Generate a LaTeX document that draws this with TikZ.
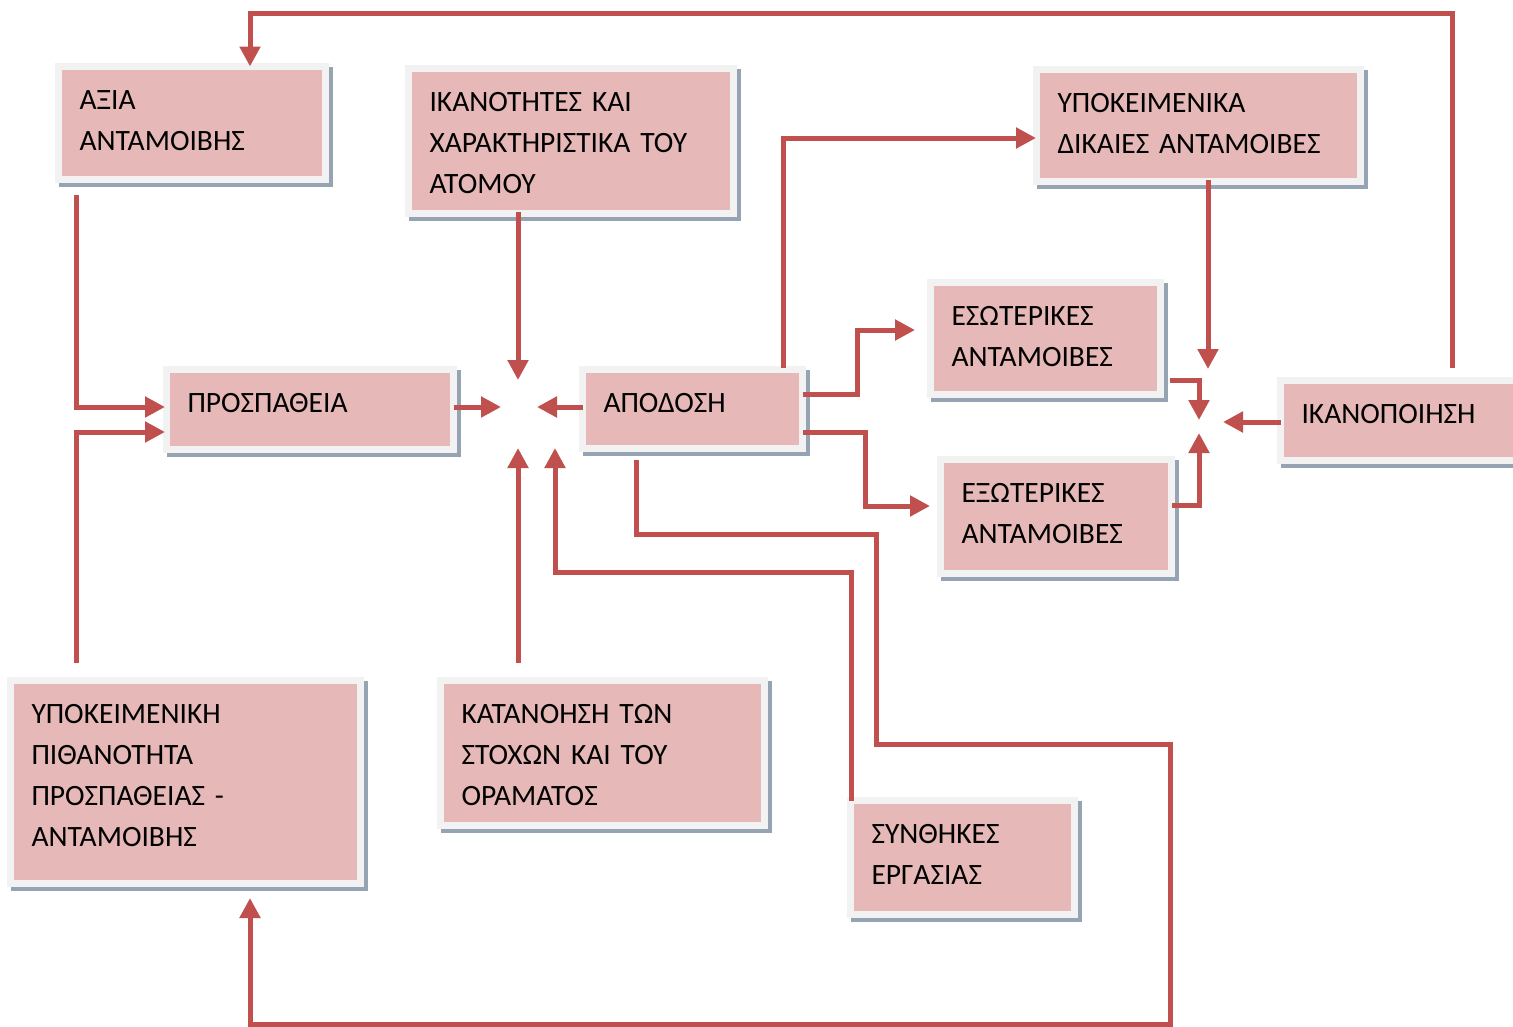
\documentclass[tikz,border=0pt]{standalone}
\usepackage{fontspec}
\setmainfont{Carlito}
\usetikzlibrary{arrows.meta,calc}
\definecolor{cardfill}{HTML}{E6B8B7}
\definecolor{cardframe}{HTML}{F2F2F2}
\definecolor{cardshadow}{HTML}{95A3B3}
\definecolor{linkred}{HTML}{C0504D}
\begin{document}
\begin{tikzpicture}[x=1pt,y=-1pt,
  card/.style={anchor=north west, fill=cardfill, draw=cardframe, line width=7pt,
    outer sep=0pt, inner xsep=21pt, inner ysep=0pt, align=left,
    font=\fontsize{29.5}{41}\selectfont, text height=43pt,
    preaction={fill=cardshadow, draw=cardshadow, line width=7pt,
      transform canvas={xshift=4pt,yshift=-4pt}}},
  link/.style={draw=linkred, line width=5pt},
  tip/.style={-{Triangle[length=20pt,width=20pt]}}
]
\useasboundingbox (0,0) rectangle (1513,1026);
\clip (0,0) rectangle (1513,1026);
\fill[white] (0,0) rectangle (1513,1026);

% boxes
\node[card, text width=225pt, text depth=70pt] (axia) at (58.5,66.5) {ΑΞΙΑ\\ΑΝΤΑΜΟΙΒΗΣ};
\node[card, text width=283pt, text depth=102pt] (ikan) at (408.5,68.5) {ΙΚΑΝΟΤΗΤΕΣ ΚΑΙ\\ΧΑΡΑΚΤΗΡΙΣΤΙΚΑ ΤΟΥ\\ΑΤΟΜΟΥ};
\node[card, text width=282pt, text depth=69pt] (ypok) at (1036.5,69.5) {ΥΠΟΚΕΙΜΕΝΙΚΑ\\ΔΙΚΑΙΕΣ ΑΝΤΑΜΟΙΒΕΣ};
\node[card, text width=245pt, text depth=37pt] (prosp) at (166.5,369.5) {ΠΡΟΣΠΑΘΕΙΑ};
\node[card, text width=178pt, text depth=36pt] (apod) at (582.5,369.5) {ΑΠΟΔΟΣΗ};
\node[card, text width=188pt, text depth=69pt] (eso) at (930.5,282.5) {ΕΣΩΤΕΡΙΚΕΣ\\ΑΝΤΑΜΟΙΒΕΣ};
\node[card, text width=189pt, text depth=71pt] (exo) at (940.5,459.5) {ΕΞΩΤΕΡΙΚΕΣ\\ΑΝΤΑΜΟΙΒΕΣ};
\node[card, text width=218pt, text depth=37pt] (sat) at (1280.5,380.5) {ΙΚΑΝΟΠΟΙΗΣΗ};
\node[card, text width=308pt, text depth=160pt] (pith) at (10.5,680.5) {ΥΠΟΚΕΙΜΕΝΙΚΗ\\ΠΙΘΑΝΟΤΗΤΑ\\ΠΡΟΣΠΑΘΕΙΑΣ -\\ΑΝΤΑΜΟΙΒΗΣ};
\node[card, text width=282pt, text depth=102pt] (katan) at (440.5,680.5) {ΚΑΤΑΝΟΗΣΗ ΤΩΝ\\ΣΤΟΧΩΝ ΚΑΙ ΤΟΥ\\ΟΡΑΜΑΤΟΣ};
\node[card, text width=182pt, text depth=71pt] (synth) at (850.5,800.5) {ΣΥΝΘΗΚΕΣ\\ΕΡΓΑΣΙΑΣ};

% meeting points of the arrows
\coordinate (tipP) at (501,407);
\coordinate (tipA) at (537,407);
\coordinate (tipI) at (518,380);
\coordinate (tipK) at (518,448);
\coordinate (tipS) at (555,448);
\coordinate (tipY) at (1208,369);
\coordinate (tipE) at (1199,420);
\coordinate (tipX) at (1199,433);
\coordinate (tipT) at (1223,422);

% connectors
\draw[link,tip] ([xshift=171.5pt,yshift=12.5pt]sat.north west) -- ++(0,-355) -| ([xshift=191.5pt]axia.north west);
\draw[link,tip] ([xshift=17.5pt,yshift=-15.5pt]axia.south west) |- ([xshift=-1.5pt,yshift=-37.5pt]prosp.north west);
\draw[link,tip] ([xshift=65.5pt,yshift=17.5pt]pith.north west) |- ([xshift=-1.5pt,yshift=-62.5pt]prosp.north west);
\draw[link,tip] ([xshift=109.5pt,yshift=1.5pt]ikan.south west) -- (tipI);
\draw[link,tip] ([yshift=2.5pt]prosp.east) -- (tipP);
\draw[link,tip] ([yshift=2pt]apod.west) -- (tipA);
\draw[link,tip] ([xshift=77.5pt,yshift=17.5pt]katan.north west) -- (tipK);
\draw[link,tip] ([xshift=0.5pt]synth.north west) -- ++(0,-228) -| (tipS);
\draw[link,tip] ([xshift=53.5pt,yshift=-11.5pt]apod.south west) -- ++(0,74) -- ++(240,0)
  -- ++(0,210) -- ++(294,0) -- ++(0,280) -| ([xshift=239.5pt,yshift=-14.5pt]pith.south west);
\draw[link,tip] ([xshift=200.5pt,yshift=1.5pt]apod.north west) |- ([xshift=-0.5pt,yshift=-68.5pt]ypok.north west);
\draw[link,tip] ([yshift=15pt]apod.east) -- ++(55,0) |- ([xshift=-15.5pt,yshift=-47.5pt]eso.north west);
\draw[link,tip] ([yshift=-23pt]apod.east) -- ++(63,0) |- ([xshift=-10.5pt,yshift=-46.5pt]exo.north west);
\draw[link,tip] ([xshift=171.5pt,yshift=1.5pt]ypok.south west) -- (tipY);
\draw[link,tip] ([xshift=9.5pt,yshift=14pt]eso.south east) -| (tipE);
\draw[link,tip] ([xshift=0.5pt,yshift=-46pt]exo.north east) -| (tipX);
\draw[link,tip] ([yshift=-1.5pt]sat.west) -- (tipT);
\end{tikzpicture}
\end{document}
